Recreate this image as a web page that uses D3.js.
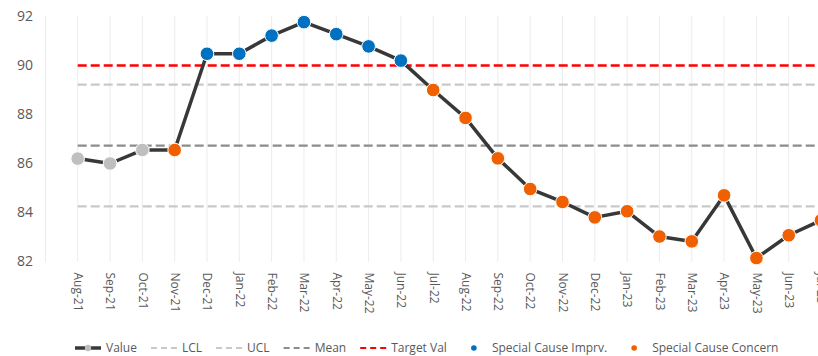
<!DOCTYPE html>
<html>
<head>
<meta charset="utf-8">
<script src="https://cdn.jsdelivr.net/npm/d3@7/dist/d3.min.js"></script>
<style>
  html, body { margin: 0; padding: 0; background: #fff; overflow: hidden; }
  svg { display: block; font-family: "Segoe UI", "Open Sans", "Noto Sans", sans-serif; }
</style>
</head>
<body>
<svg id="chart" width="818" height="356"></svg>
<script>
// Monthly SPC data
const months = ["Aug-21","Sep-21","Oct-21","Nov-21","Dec-21","Jan-22","Feb-22","Mar-22","Apr-22","May-22","Jun-22",
  "Jul-22","Aug-22","Sep-22","Oct-22","Nov-22","Dec-22","Jan-23","Feb-23","Mar-23","Apr-23","May-23","Jun-23","Jul-23"];
const values = [86.2, 86.0, 86.55, 86.55, 90.48, 90.48, 91.22, 91.77, 91.28, 90.78, 90.2,
  89.0, 87.86, 86.21, 84.96, 84.43, 83.8, 84.05, 83.02, 82.82, 84.7, 82.14, 83.07, 83.68];
// n = common cause, i = special cause improvement, c = special cause concern
const status = ["n","n","n","c","i","i","i","i","i","i","i",
  "c","c","c","c","c","c","c","c","c","c","c","c","c"];
const lcl = 84.25;
const ucl = 89.22;
const mean = 86.73;
const target = 90;
const yTicks = [82, 84, 86, 88, 90, 92];

const colors = { n: "#BFBFBF", i: "#0070C0", c: "#F06000" };

const svg = d3.select("#chart");

const x = d3.scalePoint().domain(months).range([77.7, 77.7 + 23 * 32.32]);
const step = x.step();
const y = d3.scaleLinear().domain([82, 92]).range([261.5, 16.5]);

// vertical dotted gridlines (one at the plot's left edge plus one per month)
const gridX = [x(months[0]) - step].concat(months.map(m => x(m)));
svg.append("g").selectAll("line").data(gridX).join("line")
  .attr("x1", d => d).attr("x2", d => d)
  .attr("y1", y(92)).attr("y2", y(82))
  .attr("stroke", "#D9D9D9").attr("stroke-width", 1)
  .attr("stroke-dasharray", "1,1");

// y axis labels
const yAxis = svg.append("g").attr("transform", "translate(33,0)")
  .call(d3.axisLeft(y).tickValues(yTicks).tickSize(0).tickPadding(0));
yAxis.select(".domain").remove();
yAxis.selectAll("text").attr("fill", "#595959").style("font-size", "14px")
  .style("font-family", "\"Segoe UI\", \"Open Sans\", sans-serif");

// x axis labels, rotated to read downward
const xAxis = svg.append("g").attr("transform", `translate(0,${y(82)})`)
  .call(d3.axisBottom(x).tickSize(0).tickPadding(0));
xAxis.select(".domain").remove();
xAxis.selectAll("text")
  .attr("fill", "#595959").style("font-size", "12px")
  .style("font-family", "\"Segoe UI\", \"Open Sans\", sans-serif")
  .attr("text-anchor", "start").attr("dy", "0.35em")
  .attr("transform", "translate(0,11) rotate(90)");

// control limits, mean and target
const xStart = x(months[0]);
const xEnd = x(months[months.length - 1]) + step;
const refLines = [
  { v: lcl, color: "#C9C9C9" },
  { v: ucl, color: "#C9C9C9" },
  { v: mean, color: "#8C8C8C" },
  { v: target, color: "#FF0000" }
];
svg.append("g").selectAll("line").data(refLines).join("line")
  .attr("x1", xStart).attr("x2", xEnd)
  .attr("y1", d => y(d.v)).attr("y2", d => y(d.v))
  .attr("stroke", d => d.color).attr("stroke-width", 2.4)
  .attr("stroke-dasharray", "9,4");

// value line
const line = d3.line().x((d, i) => x(months[i])).y(d => y(d));
svg.append("path").datum(values)
  .attr("d", line).attr("fill", "none")
  .attr("stroke", "#383838").attr("stroke-width", 3.5)
  .attr("stroke-linejoin", "round");

// markers
svg.append("g").selectAll("circle").data(values).join("circle")
  .attr("cx", (d, i) => x(months[i])).attr("cy", d => y(d))
  .attr("r", 6.8)
  .attr("fill", (d, i) => colors[status[i]])
  .attr("stroke", "#fff").attr("stroke-width", 1);

// legend
const legendItems = [
  { label: "Value", kind: "value" },
  { label: "LCL", kind: "dash", color: "#C9C9C9" },
  { label: "UCL", kind: "dash", color: "#C9C9C9" },
  { label: "Mean", kind: "dash", color: "#8C8C8C" },
  { label: "Target Val", kind: "dash", color: "#FF0000" },
  { label: "Special Cause Imprv.", kind: "dot", color: colors.i },
  { label: "Special Cause Concern", kind: "dot", color: colors.c }
];
const legend = svg.append("g").attr("transform", "translate(0,348)");
let lx = 75;
legendItems.forEach(item => {
  const g = legend.append("g").attr("transform", `translate(${lx},0)`);
  if (item.kind === "value") {
    g.append("line").attr("x1", 0).attr("x2", 26).attr("y1", 0).attr("y2", 0)
      .attr("stroke", "#383838").attr("stroke-width", 3.5);
    g.append("circle").attr("cx", 13).attr("cy", 0).attr("r", 3.2).attr("fill", "#BFBFBF");
  } else if (item.kind === "dash") {
    g.append("line").attr("x1", 0).attr("x2", 26).attr("y1", 0).attr("y2", 0)
      .attr("stroke", item.color).attr("stroke-width", 2.2)
      .attr("stroke-dasharray", "6,4");
  } else {
    g.append("circle").attr("cx", 13).attr("cy", 0).attr("r", 2.8).attr("fill", item.color);
  }
  const t = g.append("text").attr("x", 31).attr("y", 0).attr("dy", "0.35em")
    .attr("fill", "#595959").style("font-size", "12px").text(item.label);
  lx += 31 + t.node().getComputedTextLength() + 14;
});
</script>
</body>
</html>
